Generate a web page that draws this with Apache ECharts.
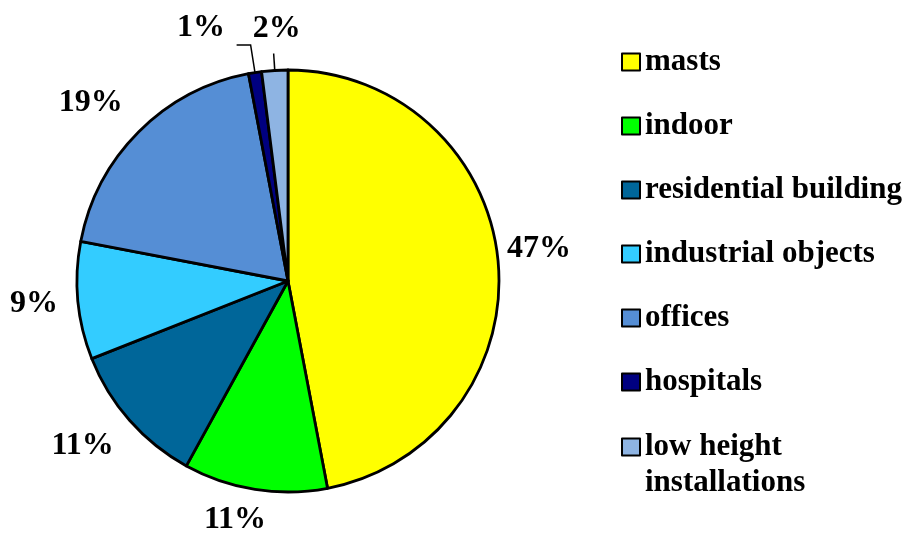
<!DOCTYPE html>
<html>
<head>
<meta charset="utf-8">
<script src="https://cdn.jsdelivr.net/npm/echarts@6/dist/echarts.min.js"></script>
<style>
html,body{margin:0;padding:0;background:#fff;}
#chart{width:909px;height:534px;}
</style>
</head>
<body>
<div id="chart"></div>
<script>
// ---- data ----
var categories = ['masts', 'indoor', 'residential building', 'industrial objects', 'offices', 'hospitals', 'low height installations'];
var values = [47, 11, 11, 9, 19, 1, 2];
var legendLabels = ['masts', 'indoor', 'residential building', 'industrial objects', 'offices', 'hospitals', 'low height\ninstallations'];

// ---- styles ----
var colors = ['#FFFF00', '#00FF00', '#006699', '#33CCFF', '#558ED5', '#000080', '#8EB4E3'];
// label offset from slice edge point (px), per slice
var labelOffsets = [[41, -12], [-20, 30], [-47, 25], [-44, 3], [-48, -29], [-54, -45], [2, -42]];
var lineLens = [[10, 5], [10, 5], [10, 5], [10, 5], [10, 5], [28, 14], [17, 0]];
var showLine = [false, false, false, false, false, true, true];

var FONT = 'Liberation Serif';
var chart = echarts.init(document.getElementById('chart'), null, {renderer: 'canvas'});

var seriesData = categories.map(function (c, i) {
  return {
    name: c,
    value: values[i],
    itemStyle: {color: colors[i]},
    labelLine: {
      length: lineLens[i][0],
      length2: lineLens[i][1],
      lineStyle: {opacity: showLine[i] ? 1 : 0}
    }
  };
});

var legendNameMap = {};
categories.forEach(function (c, i) { legendNameMap[c] = legendLabels[i]; });

var legendCommon = {
  orient: 'vertical',
  left: 621,
  padding: 0,
  itemWidth: 18,
  itemHeight: 17,
  itemGap: 28,
  icon: 'rect',
  selectedMode: false,
  itemStyle: {borderColor: '#000', borderWidth: 2},
  textStyle: {fontFamily: FONT, fontWeight: 'bold', fontSize: 31, color: '#000', lineHeight: 36}
};

var option = {
  backgroundColor: '#fff',
  animation: false,
  legend: [
    Object.assign({}, legendCommon, {
      top: 44,
      data: categories.slice(0, 6),
      formatter: function (n) { return legendNameMap[n]; }
    }),
    Object.assign({}, legendCommon, {
      top: 393,
      data: [categories[6]],
      // leading empty line keeps the icon aligned with the first text line
      formatter: function (n) { return '\n' + legendNameMap[n]; }
    })
  ],
  series: [{
    type: 'pie',
    center: [288, 281],
    radius: 211,
    startAngle: 90,
    clockwise: true,
    avoidLabelOverlap: false,
    silent: true,
    itemStyle: {borderColor: '#000', borderWidth: 2.8},
    label: {
      show: true,
      position: 'outside',
      formatter: function (p) { return p.value + '%'; },
      fontFamily: FONT,
      fontWeight: 'bold',
      fontSize: 32,
      color: '#000'
    },
    labelLine: {show: true, lineStyle: {color: '#000', width: 1.5}},
    labelLayout: function (p) {
      var pts = p.labelLinePoints;
      if (!pts) return {};
      var off = labelOffsets[p.dataIndex];
      return {
        x: pts[0][0] + off[0],
        y: pts[0][1] + off[1],
        align: 'center',
        verticalAlign: 'middle',
        labelLinePoints: pts
      };
    },
    data: seriesData
  }]
};
chart.setOption(option);
</script>
</body>
</html>
